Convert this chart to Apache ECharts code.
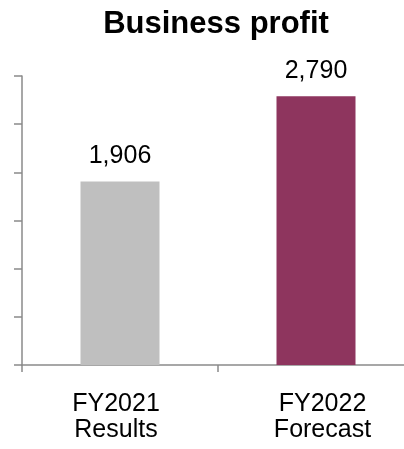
<!DOCTYPE html>
<html>
<head>
<meta charset="utf-8">
<script src="https://cdn.jsdelivr.net/npm/echarts@6/dist/echarts.min.js"></script>
<style>
  html, body { margin: 0; padding: 0; background: #ffffff; overflow: hidden; width: 404px; height: 449px; }
  /* the canvas is a bit wider than the page so the plot area can run past the right edge */
  #chart { width: 420px; height: 449px; }
</style>
</head>
<body>
<div id="chart"></div>
<script>
// Business profit: FY2021 results vs FY2022 forecast
const categories = ['FY2021\nResults', 'FY2022\nForecast'];
const profitValues = [1906, 2790];
const barColors = ['#bfbfbf', '#8e355e'];

const FONT = '"Liberation Sans", Arial, sans-serif';
const AXIS_COLOR = '#8a8a8a';
// small horizontal nudges for the category labels (left/right padding)
const labelPadding = [[0, 8, 0, 0], [0, 0, 0, 13]];

const chart = echarts.init(document.getElementById('chart'), null, { renderer: 'canvas' });

chart.setOption({
  animation: false,
  backgroundColor: '#ffffff',
  title: {
    text: 'Business profit',
    left: 211,
    textAlign: 'center',
    top: 4,
    textStyle: { fontFamily: FONT, fontSize: 31, fontWeight: 'bold', color: '#000000' }
  },
  grid: { left: 22, top: 76, right: 6, bottom: 84, containLabel: false },
  xAxis: {
    type: 'category',
    data: categories.map((c, i) => ({ value: c, textStyle: { padding: labelPadding[i] } })),
    boundaryGap: true,
    axisLine: { show: true, lineStyle: { color: AXIS_COLOR, width: 1.5 } },
    axisTick: { show: true, length: 7, inside: false, lineStyle: { color: AXIS_COLOR, width: 1.5 } },
    axisLabel: {
      fontFamily: FONT, fontSize: 25, lineHeight: 26, color: '#000000', margin: 26, interval: 0
    }
  },
  yAxis: {
    type: 'value',
    min: 0,
    max: 3000,
    interval: 500,
    axisLine: { show: true, lineStyle: { color: AXIS_COLOR, width: 1.5 } },
    axisTick: { show: true, length: 8, inside: false, lineStyle: { color: AXIS_COLOR, width: 1.5 } },
    axisLabel: { show: false },
    splitLine: { show: false }
  },
  series: [{
    type: 'bar',
    barWidth: 79,
    data: profitValues.map((v, i) => ({ value: v, itemStyle: { color: barColors[i] } })),
    label: {
      show: true,
      position: 'top',
      distance: 13,
      fontFamily: FONT,
      fontSize: 25,
      color: '#000000',
      formatter: p => p.value.toLocaleString('en-US')
    }
  }]
});
</script>
</body>
</html>
